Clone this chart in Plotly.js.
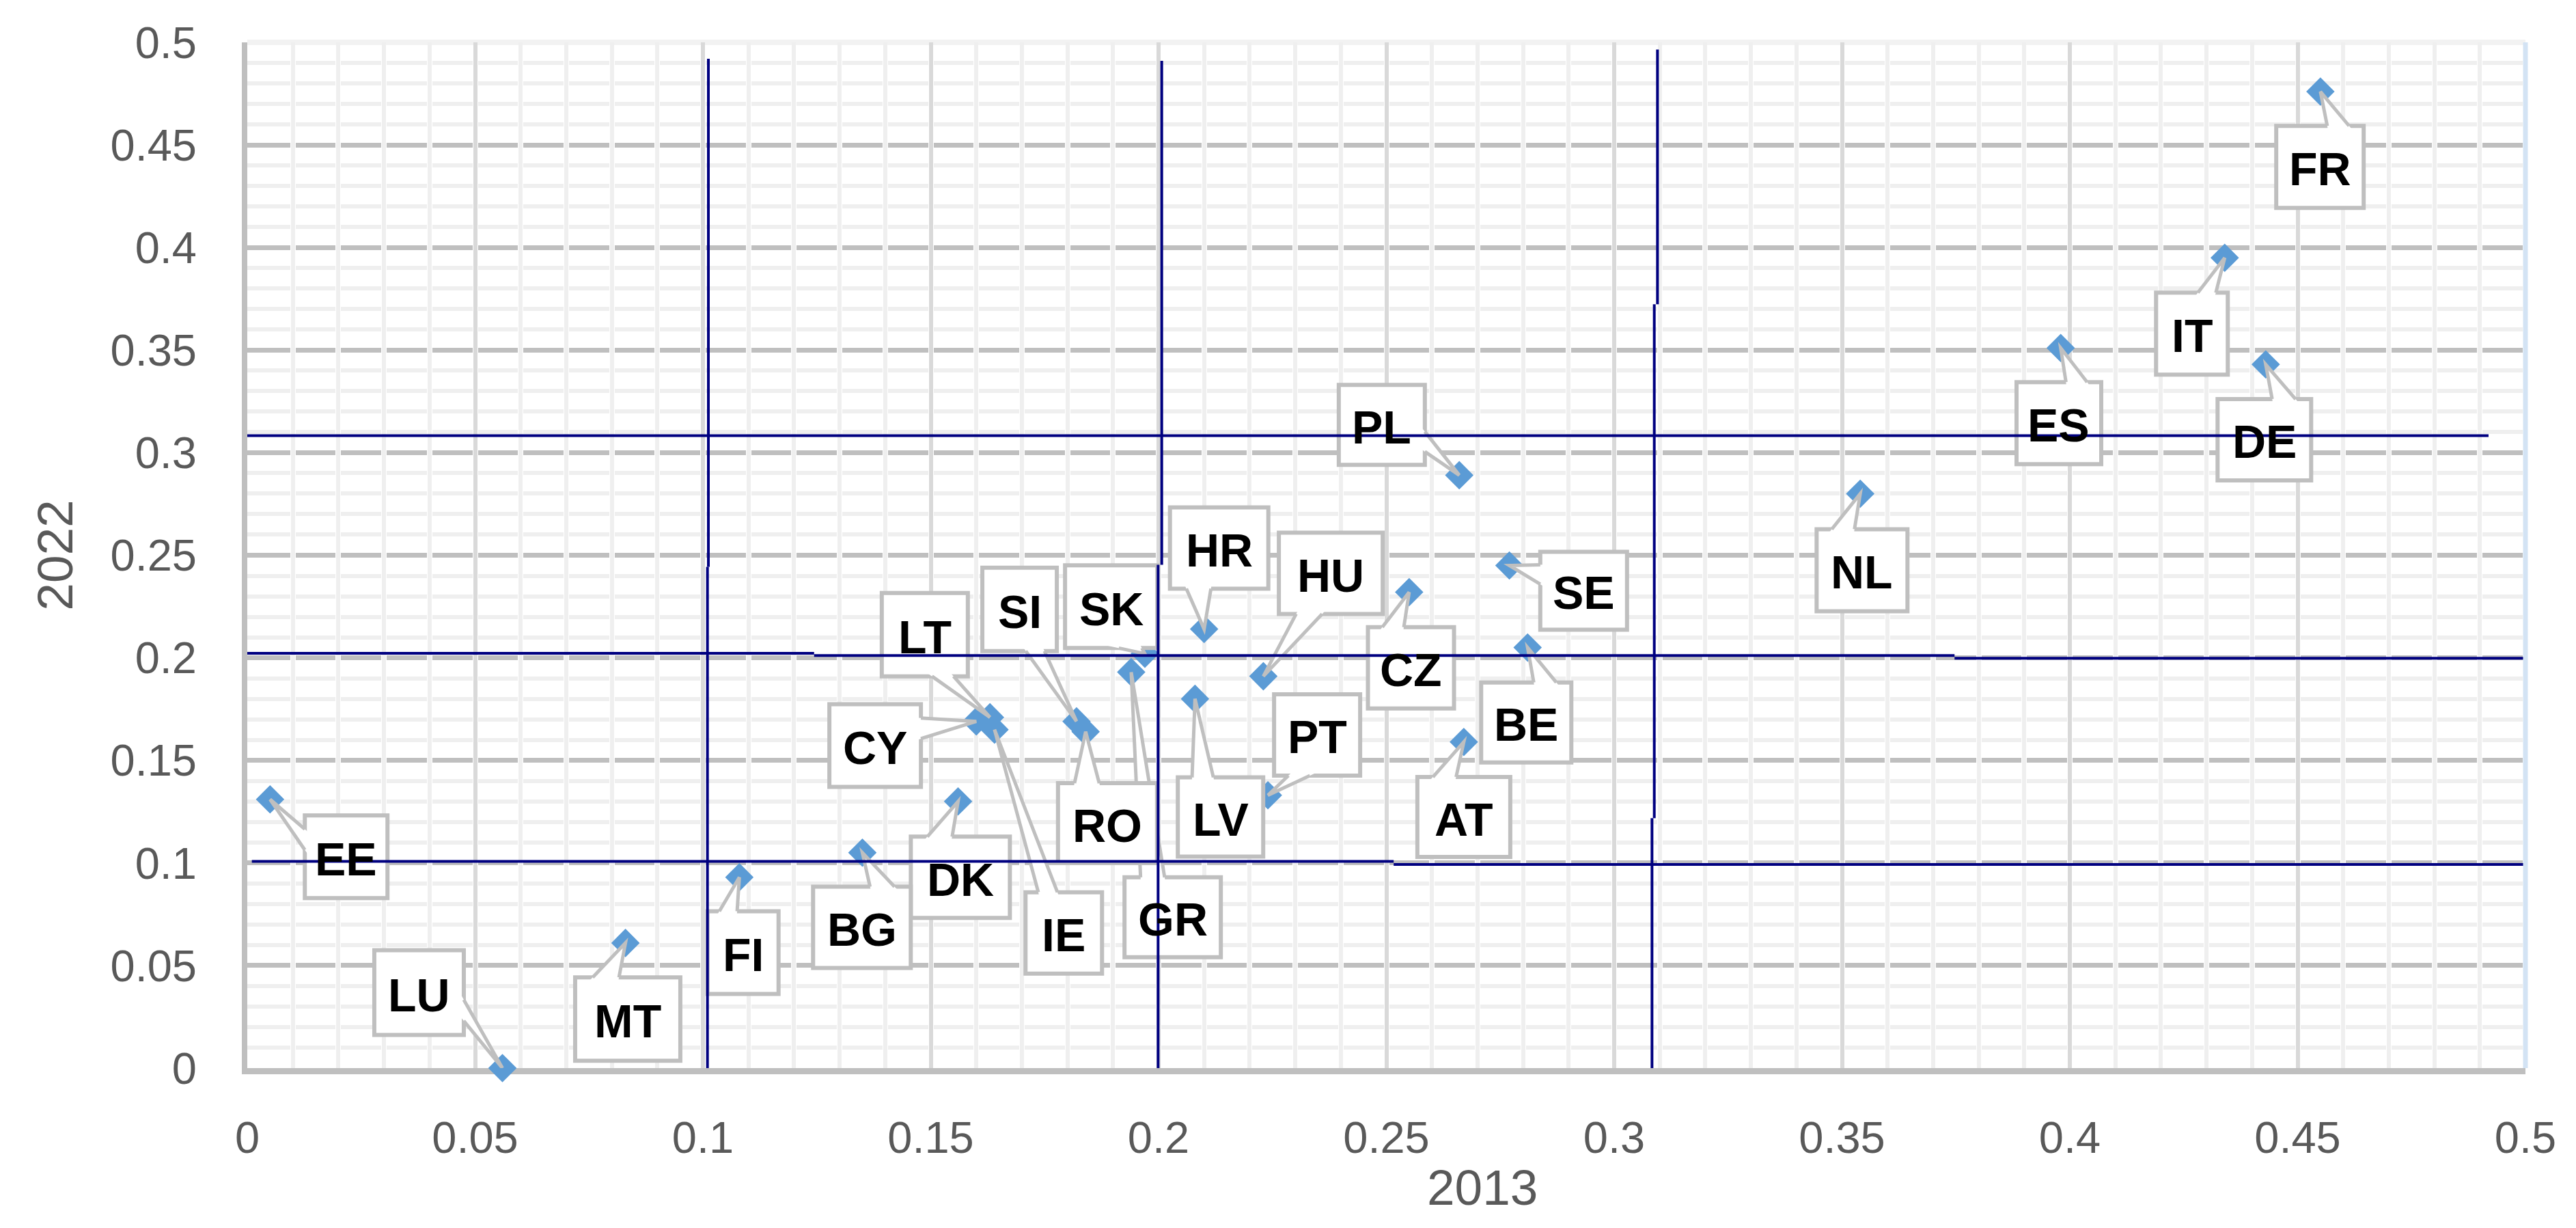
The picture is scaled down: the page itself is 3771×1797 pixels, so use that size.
<!DOCTYPE html>
<html>
<head>
<meta charset="utf-8">
<script src="https://cdn.plot.ly/plotly-3.0.1.min.js"></script>
<style>
  html, body { margin: 0; padding: 0; background: #ffffff; }
  #chart { width: 3771px; height: 1797px; }
</style>
</head>
<body>
<div id="chart"></div>
<script>
// ---------------- data ----------------
const countries = ['FR','IT','ES','DE','NL','PL','SE','CZ','BE','AT','HR','HU','PT','LV','SK','GR','SI','RO','LT','CY','IE','DK','BG','FI','MT','LU','EE'];
const x2013 = [0.455,0.434,0.398,0.443,0.354,0.266,0.277,0.255,0.281,0.267,0.210,0.223,0.224,0.208,0.197,0.194,0.182,0.184,0.163,0.160,0.164,0.156,0.135,0.108,0.083,0.056,0.005];
const y2022 = [0.476,0.395,0.351,0.343,0.280,0.289,0.245,0.232,0.205,0.159,0.214,0.191,0.133,0.180,0.202,0.193,0.169,0.164,0.171,0.169,0.165,0.130,0.105,0.093,0.061,0.000,0.131];

// tick labels
const xTickVals = [0,0.05,0.1,0.15,0.2,0.25,0.3,0.35,0.4,0.45,0.5];
const xTickText = ['0','0.05','0.1','0.15','0.2','0.25','0.3','0.35','0.4','0.45','0.5'];
const yTickVals = [0,0.05,0.1,0.15,0.2,0.25,0.3,0.35,0.4,0.45,0.5];
const yTickText = ['0','0.05','0.1','0.15','0.2','0.25','0.3','0.35','0.4','0.45','0.5'];

// hand-drawn reference line segments (axis units)
const refX0 = [0.1012,0.1010,0.2007,0.1999,0.3095,0.3088,0.3083,-0.0012,-0.002,0.1244,0.3747,0.001,0.2516];
const refY0 = [0.492,0.2443,0.491,0.2453,0.4965,0.3723,0.1218,0.3083,0.2022,0.2011,0.1998,0.1008,0.0993];
const refX1 = [0.1012,0.1010,0.2007,0.1999,0.3095,0.3088,0.3083,0.4919,0.1244,0.3747,0.5001,0.2516,0.502];
const refY1 = [0.2443,-0.004,0.2453,-0.001,0.3723,0.1218,-0.003,0.3083,0.2022,0.2011,0.1998,0.1008,0.0993];

// ---------------- label placement (layout only) ----------------
const labelX = [0.4549,0.4268,0.3976,0.4427,0.3544,0.2490,0.2933,0.2554,0.2807,0.2670,0.2133,0.2378,0.2348,0.2136,0.1896,0.2031,0.1695,0.1888,0.1487,0.1378,0.1792,0.1565,0.1349,0.1088,0.0835,0.0377,0.0217];
const labelY = [0.4393,0.3580,0.3144,0.3063,0.2427,0.3135,0.2327,0.1951,0.1685,0.1224,0.2535,0.2412,0.1624,0.1224,0.2249,0.0735,0.2236,0.1194,0.2113,0.1572,0.0659,0.0930,0.0686,0.0563,0.0239,0.0368,0.1030];
const labelW = [134,111,130,143,139,132,133,132,138,142,150,158,132,131,141,147,115,151,132,140,118,151,149,110,160,137,127];
const labelH = [126,126,126,125,126,123,120,125,123,123,125,125,125,122,127,123,128,123,128,127,125,125,125,127,128,130,127];

// ---------------- geometry ----------------
const W = 3771, H = 1797;
const M = {l: 362, r: 74, t: 62, b: 234};
const xRange = [0, 0.5], yRange = [0, 0.5];
const plotW = W - M.l - M.r, plotH = H - M.t - M.b;
const kx = plotW / (xRange[1] - xRange[0]);
const ky = plotH / (yRange[1] - yRange[0]);

const tickFont = {family: 'Liberation Sans, Arial, sans-serif', size: 65, color: '#595959'};
const titleFont = {family: 'Liberation Sans, Arial, sans-serif', size: 73, color: '#595959'};
const labelFont = {family: 'Liberation Sans Narrow, Arial Narrow, Liberation Sans, Arial, sans-serif', size: 68, color: '#000000'};
const boxLine = '#bfbfbf';

// dash pattern for major horizontal gridlines: gaps where the minor verticals cross
const cell = plotW / 50;
const dashParts = [(cell - 4).toFixed(2) + 'px'];
for (let k = 1; k < 50; k++) { dashParts.push('8px', (cell - 8).toFixed(2) + 'px'); }
dashParts.push('8px');
const yGridDash = dashParts.join(',');

const shapes = [];
const annotations = [];
// faint top border
shapes.push({type: 'line', layer: 'between', xref: 'paper', yref: 'paper', x0: 0, x1: 1, y0: 1, y1: 1,
  line: {color: '#f2f2f2', width: 8}});

const fmt = p => p[0].toFixed(1) + ',' + p[1].toFixed(1);

countries.forEach((c, i) => {
  const hw = labelW[i] / 2 - 3, hh = labelH[i] / 2 - 3;
  // box centre relative to the point, screen px (y down)
  const cdx = (labelX[i] - x2013[i]) * kx;
  const cdy = -(labelY[i] - y2022[i]) * ky;
  const tx = -cdx, ty = -cdy; // tip relative to box centre

  shapes.push({type: 'rect', layer: 'above', xref: 'x', yref: 'y',
    xsizemode: 'pixel', ysizemode: 'pixel', xanchor: labelX[i], yanchor: labelY[i],
    x0: -hw, x1: hw, y0: -hh, y1: hh,
    fillcolor: '#ffffff', line: {color: boxLine, width: 6}});

  if (Math.abs(tx) > hw + 2 || Math.abs(ty) > hh + 2) {
    let b1, b2, n;
    if (Math.abs(tx) * hh > Math.abs(ty) * hw) {
      const ex = tx > 0 ? hw : -hw;
      const f1 = ty > 0 ? 7 / 12 : 2 / 12, f2 = ty > 0 ? 10 / 12 : 5 / 12;
      b1 = [ex, -hh + f1 * 2 * hh]; b2 = [ex, -hh + f2 * 2 * hh]; n = [Math.sign(tx), 0];
    } else {
      const ey = ty > 0 ? hh : -hh;
      const f1 = tx > 0 ? 7 / 12 : 2 / 12, f2 = tx > 0 ? 10 / 12 : 5 / 12;
      b1 = [-hw + f1 * 2 * hw, ey]; b2 = [-hw + f2 * 2 * hw, ey]; n = [0, Math.sign(ty)];
    }
    const A = [cdx + b1[0], cdy + b1[1]];
    const B = [cdx + b2[0], cdy + b2[1]];
    const ext = (P) => {
      const vx = P[0], vy = P[1];
      const nn = Math.abs(vx * n[0] + vy * n[1]) || 1;
      const t = 7 / nn;
      return [P[0] + vx * t, P[1] + vy * t];
    };
    const Ai = ext(A), Bi = ext(B);
    const up = P => [P[0], -P[1]]; // plotly pixel y is upward
    shapes.push({type: 'path', layer: 'above', xref: 'x', yref: 'y',
      xsizemode: 'pixel', ysizemode: 'pixel', xanchor: x2013[i], yanchor: y2022[i],
      path: 'M' + fmt(up(Ai)) + ' L0,0 L' + fmt(up(Bi)) + ' Z',
      fillcolor: '#ffffff', line: {width: 0}});
    shapes.push({type: 'path', layer: 'above', xref: 'x', yref: 'y',
      xsizemode: 'pixel', ysizemode: 'pixel', xanchor: x2013[i], yanchor: y2022[i],
      path: 'M' + fmt(up(A)) + ' L0,0 L' + fmt(up(B)),
      fillcolor: 'rgba(0,0,0,0)', line: {color: boxLine, width: 5}});
  }

  annotations.push({text: '<b>' + c + '</b>', xref: 'x', yref: 'y', x: labelX[i], y: labelY[i],
    xanchor: 'center', yanchor: 'middle', yshift: -3, showarrow: false, font: labelFont});
});

// reference lines on top of the callouts
for (let k = 0; k < refX0.length; k++) {
  shapes.push({type: 'line', layer: 'above', xref: 'x', yref: 'y',
    x0: refX0[k], y0: refY0[k], x1: refX1[k], y1: refY1[k],
    line: {color: '#000080', width: 4}});
}
// light blue right border
shapes.push({type: 'line', layer: 'above', xref: 'paper', yref: 'paper', x0: 1, x1: 1, y0: 0, y1: 1,
  line: {color: '#d3e3f4', width: 7}});

annotations.push({
  text: '2013', xref: 'paper', yref: 'paper', x: 0.5421, y: -0.1163,
  xanchor: 'center', yanchor: 'middle', showarrow: false, font: titleFont
});

const trace = {
  type: 'scatter', mode: 'markers',
  x: x2013, y: y2022, text: countries,
  marker: {symbol: 'diamond', size: 32, color: '#5b9bd5', line: {width: 0}},
  cliponaxis: false, hoverinfo: 'text', showlegend: false
};

const layout = {
  width: W, height: H,
  margin: M,
  paper_bgcolor: '#ffffff', plot_bgcolor: '#ffffff',
  showlegend: false,
  xaxis: {
    range: xRange, tickmode: 'array', tickvals: xTickVals, ticktext: xTickText,
    showline: true, linecolor: '#bfbfbf', linewidth: 9,
    showgrid: true, gridcolor: '#d9d9d9', gridwidth: 6,
    minor: {tickmode: 'linear', tick0: 0, dtick: 0.01, showgrid: true, gridcolor: '#efefef', gridwidth: 6, ticks: ''},
    zeroline: false, ticks: '', ticklabelstandoff: 37,
    tickfont: tickFont, layer: 'below traces', fixedrange: true
  },
  yaxis: {
    range: yRange, tickmode: 'array', tickvals: yTickVals, ticktext: yTickText,
    showline: true, linecolor: '#bfbfbf', linewidth: 8,
    showgrid: true, gridcolor: '#bfbfbf', gridwidth: 7, griddash: yGridDash,
    minor: {tickmode: 'linear', tick0: 0, dtick: 0.01, showgrid: true, gridcolor: '#efefef', gridwidth: 6, ticks: ''},
    zeroline: false, ticks: '', ticklabelstandoff: 53,
    tickfont: tickFont, layer: 'below traces', fixedrange: true,
    title: {text: '2022', font: titleFont, standoff: 34}
  },
  annotations: annotations,
  shapes: shapes
};

Plotly.newPlot('chart', [trace], layout, {displayModeBar: false, staticPlot: true});
</script>
</body>
</html>
